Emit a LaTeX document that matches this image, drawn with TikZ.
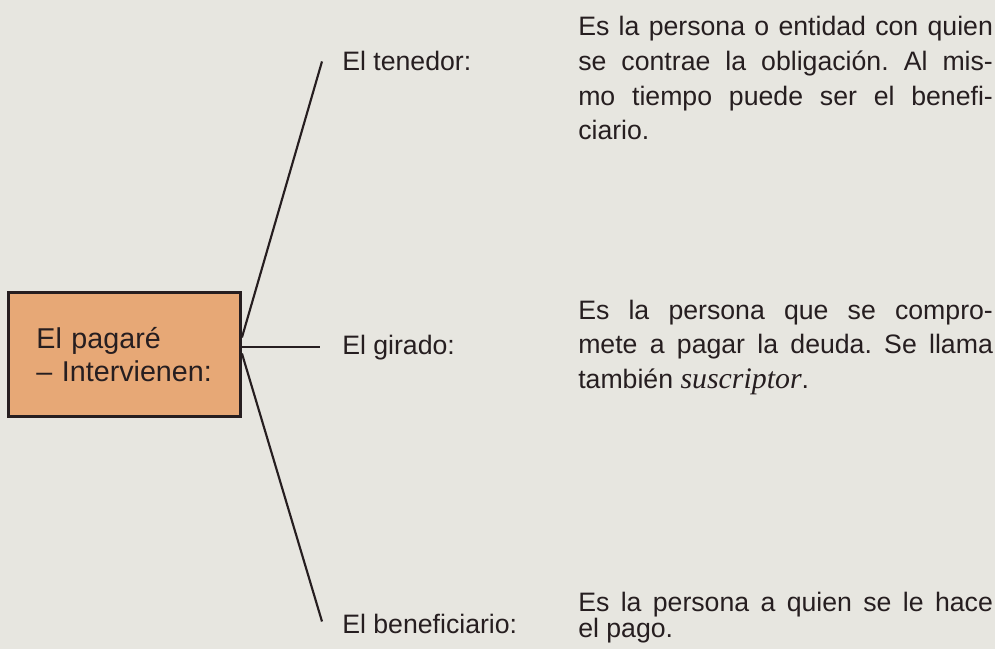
\documentclass[tikz,border=0pt]{standalone}
\usepackage{fontspec}
\setmainfont{Liberation Sans}
\newfontfamily\seriffont[Scale=1.12]{Liberation Serif}
\usetikzlibrary{positioning}
\definecolor{fondo}{RGB}{231,230,224}
\definecolor{naranja}{RGB}{231,168,118}
\definecolor{tinta}{RGB}{38,30,32}
\frenchspacing
\tolerance=9999 \hyphenpenalty=10000
\tikzset{
  caja/.style={anchor=north west,draw=tinta,line width=2.2pt,fill=naranja,
    minimum width=174pt,minimum height=93pt,inner xsep=21pt,
    text width=132pt,align=left,text=tinta,font=\fontsize{21.5}{19}\selectfont},
  rama/.style={draw=tinta,line width=1.6pt},
  etiqueta/.style={anchor=base west,inner sep=0pt,text=tinta,font=\fontsize{20}{24}\selectfont},
  parrafo/.style={anchor=base west,inner sep=0pt,text=tinta,text width=311pt,align=justify,
    font=\fontsize{20}{26}\selectfont}
}

\begin{document}
\begin{tikzpicture}[x=0.75pt,y=-0.75pt]
            \useasboundingbox (0,0) rectangle (995,649);
            \fill[fondo] (0,0) rectangle (995,649);

            \node[caja] (pagare) at (7,291) {\vspace{12pt}El pagaré\\[-8pt]\mbox{– Intervienen:}};

            \node[etiqueta] (tenedor) at (342,71) {El tenedor:};
            \node[etiqueta] (girado) at (342,354) {El girado:};
            \node[etiqueta] (beneficiario) at (342,633) {El beneficiario:};

            \draw[rama] ([yshift=12.75pt]pagare.east) -- ([xshift=-15pt]tenedor.west);
            \draw[rama] (pagare.east |- girado.west) -- ([xshift=-16.5pt]girado.west);
            \draw[rama] ([yshift=0.75pt]pagare.east) -- ([xshift=-15pt,yshift=1.5pt]beneficiario.west);

            \node[parrafo] (texto1) at (578,36) {Es la persona o entidad con quien\linebreak se contrae la obligación. Al mis-\linebreak mo tiempo puede ser el benefi-\linebreak ciario.};
            \node[parrafo] (texto2) at (578,319) {Es la persona que se compro-\linebreak mete a pagar la deuda. Se llama\linebreak también {\seriffont\itshape suscriptor}.};
            \node[parrafo,font=\fontsize{20}{20}\selectfont] (texto3) at (578,611) {Es la persona a quien se le hace\linebreak el pago.};
\end{tikzpicture}
\end{document}
